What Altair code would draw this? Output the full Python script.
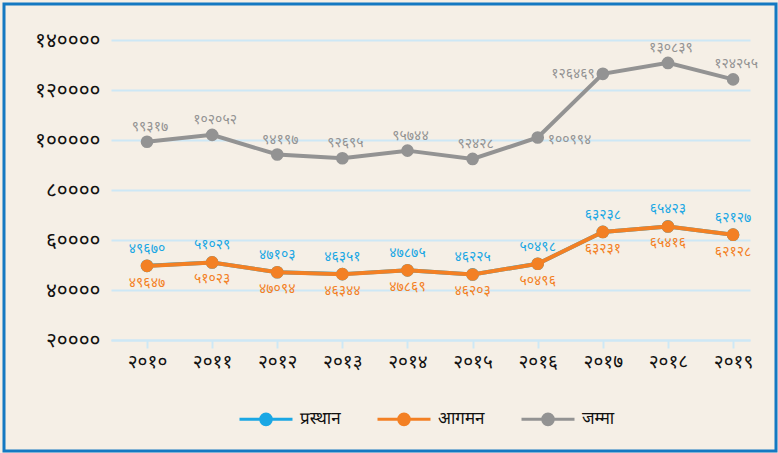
import altair as alt
import pandas as pd

years = [2010, 2011, 2012, 2013, 2014, 2015, 2016, 2017, 2018, 2019]
departure = [49670, 51029, 47103, 46351, 47875, 46225, 50498, 63238, 65423, 62127]
arrival = [49647, 51023, 47094, 46344, 47869, 46203, 50496, 63231, 65416, 62128]
total = [99317, 102052, 94197, 92695, 95744, 92428, 100994, 126469, 130839, 124255]
series_names = ["प्रस्थान", "आगमन", "जम्मा"]
y_ticks = [20000, 40000, 60000, 80000, 100000, 120000, 140000]

DEV = str.maketrans("0123456789", "०१२३४५६७८९")


def dev(n):
    return str(n).translate(DEV)


rows = []
for name, vals in zip(series_names, [departure, arrival, total]):
    for yr, v in zip(years, vals):
        rows.append({"year": yr, "series": name, "value": v, "label": dev(v)})
df = pd.DataFrame(rows)


def label_expr(values):
    expr = "''"
    for v in reversed(values):
        expr = f"datum.value == {v} ? '{dev(v)}' : ({expr})"
    return expr


FONT = "Noto Sans Devanagari, Lohit Devanagari, Noto Sans"
BLUE = "#1AA7E4"
ORANGE = "#F38024"
GRAY = "#939393"
GRID = "#CDE8F6"

color = alt.Color(
    "series:N",
    scale=alt.Scale(domain=series_names, range=[BLUE, ORANGE, GRAY]),
    sort=series_names,
    legend=alt.Legend(
        title=None,
        orient="none",
        legendX=127,
        legendY=351,
        direction="horizontal",
        symbolType="M-1,0L1,0M-0.2,0A0.2,0.2 0 1,0 0.2,0A0.2,0.2 0 1,0 -0.2,0",
        symbolSize=2809,
        symbolStrokeWidth=3,
        symbolFillColor=None,
        labelFont=FONT,
        labelFontSize=17,
        labelColor="#111111",
        labelOffset=6,
        columnPadding=30,
        labelLimit=200,
    ),
)

x = alt.X(
    "year:Q",
    scale=alt.Scale(domain=[2009.447, 2019.26], nice=False, zero=False),
    axis=alt.Axis(
        title=None,
        values=years,
        labelExpr=label_expr(years),
        grid=False,
        domainColor=GRID,
        domainWidth=2,
        tickColor=GRID,
        tickWidth=2,
        tickSize=8,
        labelFont=FONT,
        labelFontSize=19,
        labelColor="#111111",
        labelPadding=4,
    ),
)
y = alt.Y(
    "value:Q",
    scale=alt.Scale(domain=[20000, 140000], nice=False, zero=False),
    axis=alt.Axis(
        title=None,
        values=y_ticks,
        labelExpr=label_expr(y_ticks),
        grid=True,
        gridColor=GRID,
        gridWidth=2,
        domain=False,
        ticks=False,
        labelFont=FONT,
        labelFontSize=21,
        labelColor="#111111",
        labelPadding=11,
    ),
)

base = alt.Chart(df)

frame = base.mark_rect(fill=None, stroke="#1479C2", strokeWidth=3).encode(
    x=alt.value(-107), x2=alt.value(665), y=alt.value(-36), y2=alt.value(411)
).transform_filter("datum.year == 2010 && datum.series == 'जम्मा'")

layers = [frame]
for name in ["जम्मा", "प्रस्थान", "आगमन"]:
    flt = alt.datum.series == name
    layers.append(
        base.mark_line(strokeWidth=4).encode(x=x, y=y, color=color).transform_filter(flt)
    )
    layers.append(
        base.mark_circle(size=160, opacity=1).encode(x=x, y=y, color=color).transform_filter(flt)
    )

txt = dict(font=FONT, fontSize=14)
# total labels
layers.append(
    base.mark_text(dx=3, dy=-15, color=GRAY, **txt).encode(x=x, y=y, text="label:N").transform_filter(
        "datum.series == 'जम्मा' && datum.year != 2016 && datum.year != 2017"
    )
)
layers.append(
    base.mark_text(dx=10, dy=2, align="left", color=GRAY, **txt).encode(x=x, y=y, text="label:N").transform_filter(
        "datum.series == 'जम्मा' && datum.year == 2016"
    )
)
layers.append(
    base.mark_text(dx=-8, dy=0, align="right", color=GRAY, **txt).encode(x=x, y=y, text="label:N").transform_filter(
        "datum.series == 'जम्मा' && datum.year == 2017"
    )
)
layers.append(
    base.mark_text(dy=-17, color=BLUE, **txt).encode(x=x, y=y, text="label:N").transform_filter(
        "datum.series == 'प्रस्थान'"
    )
)
layers.append(
    base.mark_text(dy=17, color=ORANGE, **txt).encode(x=x, y=y, text="label:N").transform_filter(
        "datum.series == 'आगमन'"
    )
)

chart = (
    alt.layer(*layers)
    .properties(
        width=639,
        height=300,
        background="#F5EFE6",
        padding={"left": 111, "top": 40, "right": 28, "bottom": 113},
        autosize=alt.AutoSizeParams(type="none"),
    )
    .configure_view(stroke=None)
)

chart.save("out.html", embed_options={"renderer": "svg", "actions": False})
